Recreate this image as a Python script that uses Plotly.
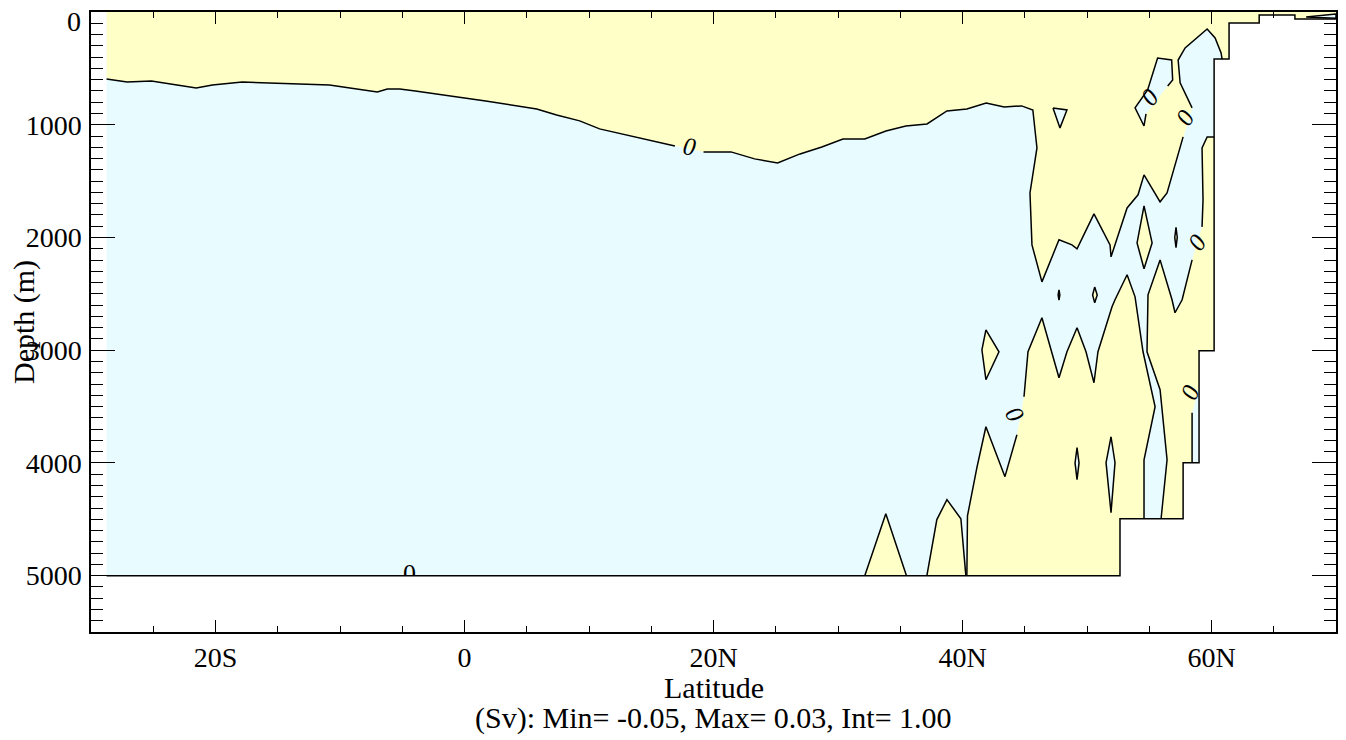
import plotly.graph_objects as go

YEL = "#FFFFC8"
CYA = "#E8FCFF"
FONT = "Liberation Serif, serif"

# ---------------- data (latitude in degrees, depth in m) ----------------
bathy_lat = [-28.75, 52.65, 52.65, 57.72, 57.72, 59.0, 59.0, 60.21, 60.21, 61.41, 61.41, 63.83, 63.83, 66.7, 66.7, 70.0]
bathy_dep = [5000, 5000, 4495, 4495, 3998, 3998, 3005, 3005, 417, 417, 98, 98, 27, 27, 62, 62]

# zero contour, upper branch (split where labels sit)
main_a_lat = [-28.75, -27.1, -25.15, -21.55, -20.25, -17.85, -10.85, -7.0, -6.2, -5.2, -3.95, -0.5, 1.7, 5.8, 7.4, 9.25, 10.85, 16.9]
main_a_dep = [594, 621, 612, 674, 647, 621, 647, 709, 683, 683, 700, 754, 789, 860, 913, 966, 1037, 1188]
main_b_lat = [19.2, 21.4, 23.3, 25.15, 26.95, 28.7, 30.4, 32.15, 33.85, 35.45, 37.15, 38.75, 40.35, 41.9, 43.35, 44.75,
              45.65, 45.98, 45.42, 45.58, 46.38, 47.75, 48.79, 49.2, 50.56, 51.85, 51.93, 53.22, 54.1, 54.58, 55.87, 56.43, 57.72]
main_b_dep = [1241, 1241, 1303, 1339, 1259, 1197, 1126, 1126, 1055, 1011, 993, 878, 860, 807, 842, 833,
              869, 1206, 1605, 2066, 2394, 2021, 2066, 2101, 1791, 2066, 2172, 1738, 1622, 1445, 1684, 1605, 1108]
main_c_lat = [58.44, 57.48, 57.32, 57.88, 59.65, 60.29, 60.77, 60.85]
main_c_dep = [851, 629, 426, 319, 151, 230, 363, 417]

# zero contour, deep branch
deep_a_lat = [40.35, 40.4, 41.16, 41.88, 43.41, 44.37]
deep_a_dep = [5000, 4470, 4040, 3679, 4122, 3750]
deep_b_lat = [44.94, 45.26, 46.38, 47.75, 48.39, 49.2, 49.92, 50.56, 50.88, 52.01, 52.25, 53.22, 53.86, 54.5, 55.47, 54.58, 54.58]
deep_b_dep = [3413, 3014, 2713, 3245, 3014, 2801, 3014, 3289, 3014, 2615, 2553, 2331, 2527, 3014, 3502, 3972, 4495]

# zero contour, northern wall branch
right_a_lat = [55.95, 56.43, 55.87, 54.82, 54.9, 55.31, 55.87, 56.83, 57.07, 57.64, 58.44]
right_a_dep = [4495, 3972, 3351, 3014, 2509, 2376, 2199, 2553, 2668, 2553, 2199]
right_b_lat = [59.24, 59.32, 59.24, 59.65, 60.21]
right_b_dep = [1906, 1667, 1206, 1108, 1108]
slab_lat = [58.44, 58.44]
slab_dep = [3555, 3998]

# positive bumps on the sea floor
peak1_lat = [32.15, 33.84, 35.5]
peak1_dep = [5000, 4450, 5000]
peak2_lat = [37.14, 37.94, 38.75, 39.87, 40.27]
peak2_dep = [5000, 4503, 4326, 4495, 5000]

# small positive islands
isl_p1_lat = [41.88, 42.93, 41.88, 41.56, 41.88]
isl_p1_dep = [2819, 3014, 3262, 2996, 2819]
isl_p2_lat = [54.58, 55.23, 54.58, 54.02, 54.58]
isl_p2_dep = [1720, 2048, 2278, 2048, 1720]
isl_p3_lat = [57.15, 57.25, 57.15, 57.05, 57.15]
isl_p3_dep = [1910, 2000, 2090, 2000, 1910]
isl_p4_lat = [47.75, 47.82, 47.75, 47.68, 47.75]
isl_p4_dep = [2465, 2510, 2555, 2510, 2465]
isl_p5_lat = [50.62, 50.82, 50.62, 50.45, 50.62]
isl_p5_dep = [2440, 2510, 2580, 2510, 2440]

# small negative islands
isl_n1_lat = [47.27, 48.39, 47.83, 47.27]
isl_n1_dep = [851, 869, 1028, 851]
isl_n2_lat = [54.74, 54.58, 53.86, 54.87, 55.67, 56.8, 56.88, 56.48]      # open at its label
isl_n2_dep = [904, 1011, 851, 692, 409, 426, 603, 656]
isl_n3_lat = [49.2, 49.36, 49.2, 49.04, 49.2]
isl_n3_dep = [3865, 4000, 4149, 4000, 3865]
isl_n4_lat = [51.93, 52.25, 51.93, 51.53, 51.93]
isl_n4_dep = [3768, 3998, 4441, 3998, 3768]
isl_n5_lat = [67.6, 70.0, 70.0, 67.6]
isl_n5_dep = [45, 18, 55, 45]

# contour labels: (lat, depth, angle)
label_lat = [18.09, 57.88, 55.0, 58.84, 44.21, 58.28]
label_dep = [1197, 940, 755, 2048, 3573, 3378]
label_ang = [8, -58, -50, -55, 60, -65]
bottom_label = (-4.42, 5000)

xtick_vals = [-20, 0, 20, 40, 60]
xtick_text = ["20S", "0", "20N", "40N", "60N"]
ytick_vals = [0, 1000, 2000, 3000, 4000, 5000]
ytick_text = ["", "1000", "2000", "3000", "4000", "5000"]

# ---------------- build figure ----------------
fig = go.Figure()


def fill(lat, dep, color):
    fig.add_trace(go.Scatter(x=lat, y=dep, mode="lines", fill="toself", fillcolor=color,
                             line=dict(width=0, color=color), hoverinfo="skip", showlegend=False))


# ocean (negative background)
ocean_lat = [-28.75, 70.0] + bathy_lat[::-1]
ocean_dep = [0, 0] + bathy_dep[::-1]
fill(ocean_lat, ocean_dep, CYA)

# upper positive cell
y1_lat = [-28.75] + main_a_lat + main_b_lat + main_c_lat + bathy_lat[9:] + [70.0]
y1_dep = [0] + main_a_dep + main_b_dep + main_c_dep + bathy_dep[9:] + [0]
fill(y1_lat, y1_dep, YEL)

# deep positive cell
y2_lat = deep_a_lat + deep_b_lat + [52.65, 52.65]
y2_dep = deep_a_dep + deep_b_dep + [4495, 5000]
fill(y2_lat, y2_dep, YEL)

# northern positive cell
y3_lat = right_a_lat + right_b_lat + [60.21, 59.0, 59.0] + slab_lat + [57.72, 57.72]
y3_dep = right_a_dep + right_b_dep + [3005, 3005, 3330] + slab_dep + [3998, 4495]
fill(y3_lat, y3_dep, YEL)

for la, de in [(peak1_lat, peak1_dep), (peak2_lat, peak2_dep), (isl_p1_lat, isl_p1_dep),
               (isl_p2_lat, isl_p2_dep), (isl_p3_lat, isl_p3_dep), (isl_p4_lat, isl_p4_dep),
               (isl_p5_lat, isl_p5_dep)]:
    fill(la, de, YEL)
for la, de in [(isl_n1_lat, isl_n1_dep), (isl_n2_lat, isl_n2_dep), (isl_n3_lat, isl_n3_dep),
               (isl_n4_lat, isl_n4_dep), (isl_n5_lat, isl_n5_dep)]:
    fill(la, de, CYA)

# bottom label (half hidden by the sea floor mask)
fig.add_trace(go.Scatter(x=[bottom_label[0]], y=[bottom_label[1]], mode="text", text=["0"],
                         textposition="middle center", textfont=dict(family=FONT, size=26, color="black"),
                         hoverinfo="skip", showlegend=False))
# sea floor / land mask
land_lat = bathy_lat + [70.0, -28.75]
land_dep = bathy_dep + [5500, 5500]
fill(land_lat, land_dep, "white")

# contour lines
segments = [(main_a_lat, main_a_dep), (main_b_lat, main_b_dep), (main_c_lat, main_c_dep),
            (deep_a_lat, deep_a_dep), (deep_b_lat, deep_b_dep), (right_a_lat, right_a_dep),
            (right_b_lat, right_b_dep), (slab_lat, slab_dep), (bathy_lat, bathy_dep),
            (peak1_lat, peak1_dep), (peak2_lat, peak2_dep),
            (isl_p1_lat, isl_p1_dep), (isl_p2_lat, isl_p2_dep), (isl_p3_lat, isl_p3_dep),
            (isl_p4_lat, isl_p4_dep), (isl_p5_lat, isl_p5_dep),
            (isl_n1_lat, isl_n1_dep), (isl_n2_lat, isl_n2_dep), (isl_n3_lat, isl_n3_dep),
            (isl_n4_lat, isl_n4_dep), (isl_n5_lat, isl_n5_dep)]
lx, ly = [], []
for la, de in segments:
    lx += list(la) + [None]
    ly += list(de) + [None]
fig.add_trace(go.Scatter(x=lx, y=ly, mode="lines", line=dict(color="black", width=1.5),
                         hoverinfo="skip", showlegend=False, connectgaps=False))

for la, de, an in zip(label_lat, label_dep, label_ang):
    fig.add_annotation(x=la, y=de, text="<i>0</i>", showarrow=False, textangle=an,
                       font=dict(family=FONT, size=25, color="black"))

axis_common = dict(showline=True, linecolor="black", linewidth=1.5, mirror="ticks", ticks="inside",
                   tickcolor="black", tickwidth=1.2, showgrid=False, zeroline=False, automargin=False,
                   ticklabeloverflow="allow", tickfont=dict(family=FONT, size=28, color="black"))
fig.update_xaxes(range=[-30, 70], tickvals=xtick_vals, ticktext=xtick_text, ticklen=12,
                 minor=dict(dtick=5, ticklen=6, ticks="inside", tickcolor="black", tickwidth=1.2),
                 ticklabelstandoff=0, **axis_common)
fig.update_yaxes(range=[5500, 0], tickvals=ytick_vals, ticktext=ytick_text, ticklen=24,
                 minor=dict(dtick=100, ticklen=12, ticks="inside", tickcolor="black", tickwidth=1.2),
                 ticklabelstandoff=2, **axis_common)

# top depth label sits a little lower than its tick, as in the original
fig.add_annotation(xref="paper", yref="paper", x=-0.0065, y=0.985, xanchor="right", yanchor="middle",
                   text=str(ytick_vals[0]), showarrow=False, font=dict(family=FONT, size=28, color="black"))
fig.add_annotation(xref="paper", yref="paper", x=-0.0538, y=0.5, xanchor="center", yanchor="middle",
                   text="Depth (m)", textangle=-90,
                   showarrow=False, font=dict(family=FONT, size=30, color="black"))
fig.add_annotation(xref="paper", yref="paper", x=0.5, y=-0.089, text="Latitude", xanchor="center",
                   yanchor="middle", showarrow=False, font=dict(family=FONT, size=30, color="black"))
fig.add_annotation(xref="paper", yref="paper", x=0.5, y=-0.1395, xanchor="center", yanchor="middle",
                   text="(Sv): Min= -0.05, Max= 0.03, Int= 1.00",
                   showarrow=False, font=dict(family=FONT, size=30, color="black"))

# the page body adds an 8 px offset, so margins are trimmed to keep the frame where the original has it
fig.update_layout(width=1346, height=740, margin=dict(l=83, r=18, t=4, b=116, autoexpand=False),
                  plot_bgcolor="white", paper_bgcolor="white", showlegend=False)
fig.write_html("out.html")
